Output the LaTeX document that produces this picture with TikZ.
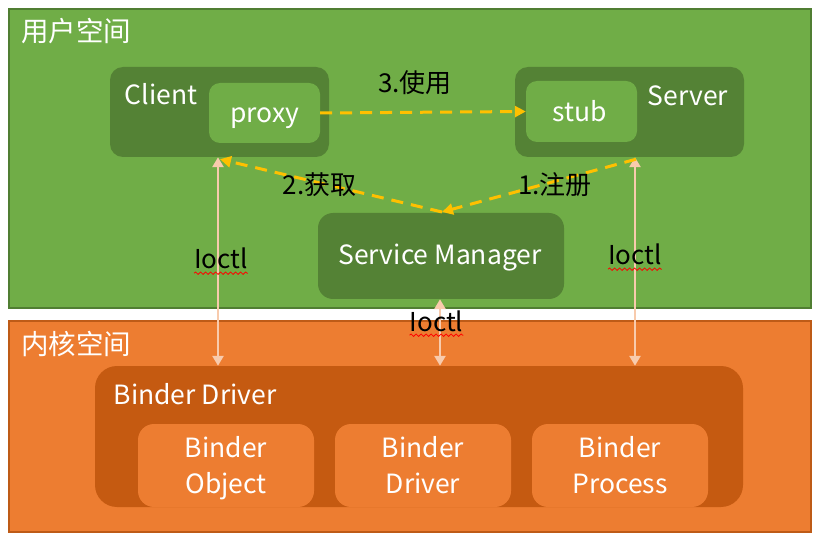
\documentclass[tikz,border=0pt]{standalone}
\usepackage{fontspec}
\setmainfont{Noto Sans CJK SC}
\usetikzlibrary{arrows.meta,decorations.pathmorphing,calc}
\definecolor{gbg}{HTML}{70AD47}
\definecolor{gdark}{HTML}{548235}
\definecolor{gedge}{HTML}{507E32}
\definecolor{obg}{HTML}{ED7D31}
\definecolor{odark}{HTML}{C55A11}
\definecolor{oedge}{HTML}{BE5B17}
\definecolor{peach}{HTML}{F8CBAD}
\definecolor{gold}{HTML}{FFC000}
\tikzset{
  area/.style={line width=1.2pt},
  darkbox/.style={rounded corners=13pt, inner sep=0pt},
  lightbox/.style={rounded corners=11pt, inner sep=0pt},
  wlabel/.style={text=white, font=\fontsize{26.5}{30}\selectfont, inner sep=0pt, text height=19pt, text depth=0pt},
  tlabel/.style={text=white, font=\fontsize{27.5}{30}\selectfont, inner sep=0pt, text height=20pt, text depth=0pt},
  blabel/.style={text=black, font=\fontsize{26}{30}\selectfont, inner sep=0pt, text height=19pt, text depth=0pt},
  ioarrow/.style={draw=peach, line width=2.8pt, {Triangle[length=10pt,width=11pt]}-{Triangle[length=10pt,width=11pt]}},
  dasharrow/.style={draw=gold, line width=3pt, dash pattern=on 12pt off 8pt, -{Triangle[length=11pt,width=11pt]}},
  squiggle/.style={draw=red, line width=0.8pt, decorate, decoration={snake, amplitude=1.2pt, segment length=5pt}}
}
\begin{document}
\begin{tikzpicture}[x=1pt,y=-1pt]
\useasboundingbox (0,0) rectangle (820,540);
% areas
\node[area, draw=gedge, fill=gbg, minimum width=802pt, minimum height=299pt, inner sep=0pt] (user) at (410,158.5) {};
\node[area, draw=oedge, fill=obg, minimum width=802pt, minimum height=211pt, inner sep=0pt] (kernel) at (410,426.5) {};
\node[tlabel, anchor=west] (ulab) at (21,32) {用户空间};
\node[tlabel, anchor=west] (klab) at (21,344) {内核空间};
% client / server
\node[darkbox, fill=gdark, minimum width=219pt, minimum height=90pt] (client) at (219.5,112) {};
\node[lightbox, fill=gbg, minimum width=111pt, minimum height=60pt] (proxy) at (264.5,113) {};
\node[wlabel] (clientlab) at (161,95.5) {Client};
\node[wlabel] (proxylab) at (264.5,113.5) {proxy};
\node[darkbox, fill=gdark, minimum width=229pt, minimum height=90pt] (server) at (629.5,112) {};
\node[lightbox, fill=gbg, minimum width=111pt, minimum height=61pt] (stub) at (581.5,111.5) {};
\node[wlabel] (serverlab) at (688,96) {Server};
\node[wlabel] (stublab) at (580,112) {stub};
% service manager
\node[darkbox, fill=gdark, minimum width=246pt, minimum height=86pt, rounded corners=15pt] (sm) at (441,256) {};
\node[wlabel] (smlab) at (440,255.5) {Service Manager};
% binder driver
\node[darkbox, fill=odark, minimum width=648pt, minimum height=141pt, rounded corners=22pt] (bd) at (419,436.5) {};
\node[wlabel, anchor=west] (bdlab) at (113.5,395) {Binder Driver};
\node[lightbox, fill=obg, minimum width=176pt, minimum height=83pt, rounded corners=16pt] (bo) at (226,465.5) {};
\node[lightbox, fill=obg, minimum width=176pt, minimum height=83pt, rounded corners=16pt] (bdr) at (423,465.5) {};
\node[lightbox, fill=obg, minimum width=176pt, minimum height=83pt, rounded corners=16pt] (bp) at (620,465.5) {};
\node[wlabel] (bolab1) at (226,447.5) {Binder};
\node[wlabel] (bolab2) at (226,484) {Object};
\node[wlabel] (bdrlab1) at (423,447.5) {Binder};
\node[wlabel] (bdrlab2) at (423,484) {Driver};
\node[wlabel] (bplab1) at (620,447.5) {Binder};
\node[wlabel] (bplab2) at (620,484) {Process};
% ioctl arrows
\coordinate (lt) at ([xshift=-1.5pt]client.south);
\coordinate (rt) at ([xshift=5.5pt]server.south);
\coordinate (mt) at ([xshift=-1pt]sm.south);
\draw[ioarrow] (lt) -- (lt |- bd.north);
\draw[ioarrow] (mt) -- (mt |- bd.north);
\draw[ioarrow] (rt) -- (rt |- bd.north);
\node[blabel] (io1) at (221,259.5) {Ioctl};
\node[blabel] (io2) at (635,255.5) {Ioctl};
\node[blabel] (io3) at (436.5,321.5) {Ioctl};
\foreach \n in {io1,io2,io3}{
  \draw[squiggle] ([yshift=-4pt]\n.south west) -- ([yshift=-4pt]\n.south east);
}
% dashed flows
\coordinate (smtop) at (442,212);
\draw[dasharrow] (proxy.east) -- (stub.west);
\draw[dasharrow] ([xshift=1pt,yshift=-2pt]rt) -- (smtop);
\draw[dasharrow] (smtop) -- ([xshift=2pt,yshift=-2pt]lt);
\node[blabel] (l3) at (415,83) {3.使用};
\node[blabel] (l2) at (319.5,185) {2.获取};
\node[blabel] (l1) at (555,185) {1.注册};
\end{tikzpicture}
\end{document}
